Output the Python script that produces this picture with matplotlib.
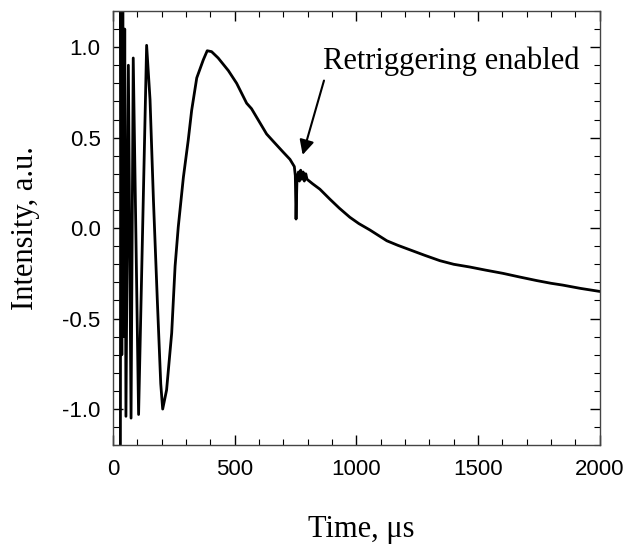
import matplotlib
matplotlib.use('Agg')
import matplotlib.pyplot as plt
from matplotlib.ticker import MultipleLocator

# time in microseconds, intensity in arbitrary units
time_us = [30, 32, 36, 40, 44, 48, 53, 63, 74, 83, 105, 138, 152, 166, 182, 196, 204,
           220, 241, 255, 268, 289, 309, 323, 344, 371, 387, 405, 432, 474, 508, 549,
           569, 600, 631, 658, 699, 727, 745, 749, 752, 756, 762, 766, 771, 776, 781,
           786, 792, 797, 820, 850, 891, 930, 973, 1010, 1055, 1090, 1125, 1170, 1220,
           1280, 1343, 1400, 1466, 1530, 1602, 1670, 1741, 1800, 1848, 1920, 2000]
intensity = [-1.6, 1.6, -0.7, 1.3, -0.6, 1.1, -1.04, 0.90, -1.05, 0.94, -1.03, 1.01,
             0.71, 0.155, -0.40, -0.86, -1.0, -0.895, -0.58, -0.21, 0.006, 0.28, 0.486,
             0.65, 0.83, 0.93, 0.98, 0.975, 0.94, 0.87, 0.80, 0.69, 0.66, 0.59, 0.52,
             0.48, 0.42, 0.38, 0.34, 0.29, 0.05, 0.28, 0.31, 0.26, 0.32, 0.27, 0.31,
             0.26, 0.30, 0.27, 0.245, 0.215, 0.16, 0.11, 0.06, 0.025, -0.01, -0.04,
             -0.07, -0.095, -0.12, -0.15, -0.18, -0.20, -0.215, -0.232, -0.25, -0.27,
             -0.29, -0.305, -0.315, -0.333, -0.35]

serif = 'Liberation Serif'
sans = 'Liberation Sans'

fig = plt.figure(figsize=(6.28, 5.47), dpi=100)
ax = fig.add_axes([0.180, 0.186, 0.775, 0.794])

ax.plot(time_us, intensity, color='black', lw=2.0, solid_joinstyle='round')

ax.set_xlim(0, 2000)
ax.set_ylim(-1.2, 1.2)
ax.xaxis.set_major_locator(MultipleLocator(500))
ax.xaxis.set_minor_locator(MultipleLocator(100))
ax.yaxis.set_major_locator(MultipleLocator(0.5))
ax.yaxis.set_minor_locator(MultipleLocator(0.1))
ax.yaxis.set_major_formatter(plt.FuncFormatter(lambda v, p: '%.1f' % v))

ax.tick_params(which='both', direction='in', top=True, right=True, color='black')
ax.tick_params(which='major', length=7, width=1.0)
ax.tick_params(which='minor', length=4, width=0.8)
ax.tick_params(axis='x', pad=10)
ax.tick_params(axis='y', pad=9)
for lab in ax.get_xticklabels() + ax.get_yticklabels():
    lab.set_fontfamily(sans)
    lab.set_fontsize(16)
for s in ax.spines.values():
    s.set_color('#444444')
    s.set_linewidth(1.0)

ax.set_xlabel('Time, \u03bcs', fontfamily=serif, fontsize=22)
ax.set_ylabel('Intensity, a.u.', fontfamily=serif, fontsize=22)
ax.xaxis.set_label_coords(0.51, -0.161)
ax.yaxis.set_label_coords(-0.15, 0.5)

# arrow pointing to the retrigger point
ax.annotate('', xy=(776, 0.39), xytext=(870, 0.83),
            arrowprops=dict(arrowstyle='-|>', color='black', lw=1.5, mutation_scale=22))
ax.text(862, 0.92, 'Retriggering enabled', fontfamily=serif, fontsize=22,
        va='center', ha='left')

fig.savefig('out.png', dpi=100)
